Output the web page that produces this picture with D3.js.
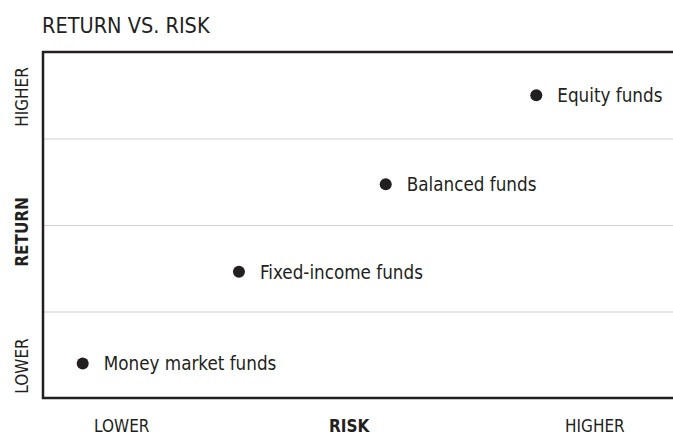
<!DOCTYPE html>
<html lang="en">
<head>
<meta charset="utf-8">
<title>Return vs. Risk</title>
<script src="https://d3js.org/d3.v7.min.js"></script>
<style>
  body { margin: 0; background: #fff; }
  svg text { font-family: "Liberation Sans Narrow", "Arial Narrow", "DejaVu Sans Condensed", sans-serif; fill: #231f20; }
</style>
</head>
<body>
<script>
// data
const funds = ["Money market funds", "Fixed-income funds", "Balanced funds", "Equity funds"];
const riskValues = [6.3, 31.1, 54.4, 78.3];      // 0..100 risk scale
const returnValues = [0.4, 1.46, 2.47, 3.5];     // 0..4 return scale
const gridTicks = [1, 2, 3];
const xLabels = ["LOWER", "RISK", "HIGHER"];
const xLabelPos = [12.5, 48.6, 87.6];
const yLabels = ["LOWER", "RETURN", "HIGHER"];
const yLabelPos = [0.37, 1.92, 3.48];

const w = 673, h = 437;
const padL = 43, padR = 673, padT = 52, padB = 398;
const ink = "#231f20";

const svg = d3.select("body").append("svg")
  .attr("width", w)
  .attr("height", h);

const xScale = d3.scaleLinear().domain([0, 100]).range([padL, padR]);
const yScale = d3.scaleLinear().domain([0, 4]).range([padB, padT]);

// title
svg.append("text")
  .attr("x", 42)
  .attr("y", 33)
  .style("font-size", "21.5px")
  .text("RETURN VS. RISK");

// grid lines
const grid = svg.append("g")
  .attr("transform", `translate(${padL},0)`)
  .call(d3.axisLeft(yScale).tickValues(gridTicks).tickSize(-(padR - padL)).tickFormat(""));
grid.select(".domain").remove();
grid.selectAll(".tick line").attr("stroke", "#cfcfcf").attr("stroke-width", 1);

// frame: top, left, bottom
svg.append("path")
  .attr("d", `M${padR},${padT}H${padL}V${padB}H${padR}`)
  .attr("fill", "none")
  .attr("stroke", ink)
  .attr("stroke-width", 2.5);

// points
const pts = svg.selectAll("g.pt")
  .data(funds)
  .enter()
  .append("g")
  .attr("class", "pt")
  .attr("transform", (d, i) => `translate(${xScale(riskValues[i])},${yScale(returnValues[i])})`);

pts.append("circle")
  .attr("r", 6)
  .attr("fill", ink);

pts.append("text")
  .attr("x", 21)
  .attr("y", 7)
  .style("font-size", "18.7px")
  .text(d => d);

// x labels
svg.selectAll("text.xl")
  .data(xLabels)
  .enter()
  .append("text")
  .attr("class", "xl")
  .attr("x", (d, i) => xScale(xLabelPos[i]))
  .attr("y", 432)
  .attr("text-anchor", "middle")
  .style("font-size", "17px")
  .style("font-weight", d => d == "RISK" ? "bold" : "normal")
  .text(d => d);

// y labels
svg.selectAll("text.yl")
  .data(yLabels)
  .enter()
  .append("text")
  .attr("class", "yl")
  .attr("transform", (d, i) => `translate(28,${yScale(yLabelPos[i])}) rotate(-90)`)
  .attr("text-anchor", "middle")
  .style("font-size", "17px")
  .style("font-weight", d => d == "RETURN" ? "bold" : "normal")
  .text(d => d);
</script>
</body>
</html>
